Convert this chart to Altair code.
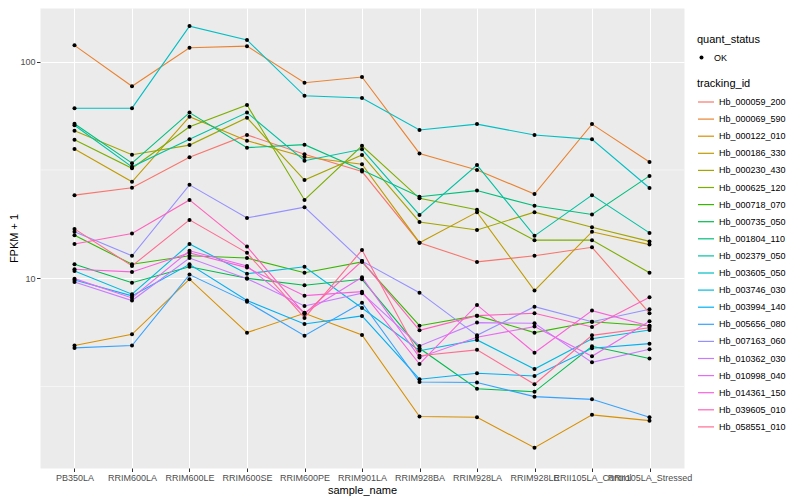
import altair as alt
import pandas as pd

samples = ["PB350LA", "RRIM600LA", "RRIM600LE", "RRIM600SE", "RRIM600PE", "RRIM901LA",
           "RRIM928BA", "RRIM928LA", "RRIM928LE", "RRII105LA_Control", "RRII105LA_Stressed"]

tracking_ids = ["Hb_000059_200", "Hb_000069_590", "Hb_000122_010", "Hb_000186_330", "Hb_000230_430",
                "Hb_000625_120", "Hb_000718_070", "Hb_000735_050", "Hb_001804_110", "Hb_002379_050",
                "Hb_003605_050", "Hb_003746_030", "Hb_003994_140", "Hb_005656_080", "Hb_007163_060",
                "Hb_010362_030", "Hb_010998_040", "Hb_014361_150", "Hb_039605_010", "Hb_058551_010"]

palette = ["#F8766D", "#EA8331", "#D89000", "#C09B00", "#A3A500", "#7CAE00", "#39B600", "#00BB4E",
           "#00BF7D", "#00C1A3", "#00BFC4", "#00BAE0", "#00B0F6", "#35A2FF", "#9590FF", "#C77CFF",
           "#E76BF3", "#FA62DB", "#FF62BC", "#FF6C91"]

hb_000059_200 = [24.2, 26.2, 36.2, 45.9, 37.4, 31.1, 14.6, 11.9, 12.7, 13.9, 6.9]
hb_000069_590 = [119, 77, 116, 118, 80, 85, 37.7, 31.6, 24.5, 51.5, 34.4]
hb_000122_010 = [4.89, 5.51, 9.9, 5.61, 6.89, 5.47, 2.30, 2.28, 1.65, 2.34, 2.20]
hb_000186_330 = [39.5, 27.9, 55.7, 43.2, 36.3, 33.6, 14.6, 20.2, 8.77, 16.4, 14.3]
hb_000230_430 = [48.0, 37.2, 41.2, 55.1, 28.4, 37.1, 18.2, 16.7, 20.2, 17.2, 14.8]
hb_000625_120 = [43.6, 32.2, 50.1, 63.1, 23.0, 40.9, 23.4, 20.7, 15.0, 15.0, 10.6]
hb_000718_070 = [15.8, 11.6, 12.7, 12.4, 10.6, 11.9, 6.04, 6.72, 5.61, 6.30, 6.04]
hb_000735_050 = [11.6, 9.54, 11.3, 10.0, 9.28, 9.89, 4.75, 3.09, 2.99, 4.85, 4.26]
hb_001804_110 = [51.7, 34.0, 58.2, 40.1, 41.4, 31.6, 23.8, 25.4, 21.6, 19.7, 29.7]
hb_002379_050 = [50.9, 32.7, 43.8, 58.2, 34.9, 39.4, 19.6, 33.3, 15.7, 24.2, 16.2]
hb_003605_050 = [61, 61, 146, 126, 69.6, 68, 48.4, 51.5, 45.9, 43.8, 26.1]
hb_003746_030 = [10.8, 8.44, 14.4, 10.5, 11.3, 7.29, 4.63, 5.19, 3.81, 5.26, 5.77]
hb_003994_140 = [9.82, 8.29, 11.6, 7.89, 6.15, 6.70, 3.42, 3.64, 3.54, 4.75, 4.99]
hb_005656_080 = [4.77, 4.89, 10.4, 7.78, 5.43, 7.71, 3.32, 3.30, 2.84, 2.76, 2.28]
hb_007163_060 = [16.4, 12.7, 27.0, 19.0, 21.3, 12.0, 8.58, 5.45, 7.39, 6.30, 7.19]
hb_010362_030 = [9.61, 7.89, 12.4, 9.96, 7.45, 8.53, 4.87, 6.24, 6.20, 4.09, 4.70]
hb_010998_040 = [9.96, 8.11, 13.4, 11.4, 6.93, 10.1, 4.31, 5.34, 5.98, 4.36, 6.33]
hb_014361_150 = [11.0, 10.7, 13.1, 11.2, 8.31, 8.67, 4.02, 7.53, 4.53, 7.09, 6.02]
hb_039605_010 = [14.4, 16.1, 23.0, 14.0, 6.84, 12.0, 5.75, 6.72, 6.89, 5.96, 8.17]
hb_058551_010 = [16.9, 11.4, 18.6, 13.1, 6.56, 13.5, 4.39, 4.67, 3.24, 5.45, 5.91]

minor_breaks = [3.1623, 31.623]
major_breaks = [10, 100]

series = [hb_000059_200, hb_000069_590, hb_000122_010, hb_000186_330, hb_000230_430,
          hb_000625_120, hb_000718_070, hb_000735_050, hb_001804_110, hb_002379_050,
          hb_003605_050, hb_003746_030, hb_003994_140, hb_005656_080, hb_007163_060,
          hb_010362_030, hb_010998_040, hb_014361_150, hb_039605_010, hb_058551_010]

rows = []
for tid, vals in zip(tracking_ids, series):
    for s, v in zip(samples, vals):
        rows.append({"tracking_id": tid, "sample_name": s, "value": v, "quant_status": "OK"})
df = pd.DataFrame(rows)

FONT = "Liberation Sans"

x_enc = alt.X("sample_name:N", sort=samples,
              scale=alt.Scale(type="point", padding=0.6),
              axis=alt.Axis(title="sample_name", labelAngle=0, labelOverlap=False,
                            labelFontSize=9, labelColor="#4D4D4D", tickSize=3.5,
                            tickColor="#333333", labelPadding=2, domain=False,
                            grid=True, gridColor="white", gridWidth=1,
                            titleFontSize=11, titleFontWeight="normal", titleColor="black",
                            titlePadding=2))
y_scale = alt.Scale(type="log", domain=[1.33, 177], nice=False, zero=False)
y_enc = alt.Y("value:Q", scale=y_scale,
              axis=alt.Axis(title="FPKM + 1", values=major_breaks, format="d",
                            labelFontSize=9, labelColor="#4D4D4D", tickSize=3.5,
                            tickColor="#333333", labelPadding=1.5, domain=False,
                            grid=True, gridColor="white", gridWidth=1,
                            titleFontSize=11, titleFontWeight="normal", titleColor="black",
                            titlePadding=0))

minor = alt.Chart(pd.DataFrame({"m": minor_breaks})).mark_rule(
    color="white", strokeWidth=0.5
).encode(y=alt.Y("m:Q", scale=y_scale))

lines = alt.Chart(df).mark_line(strokeWidth=1.1).encode(
    x=x_enc, y=y_enc,
    color=alt.Color("tracking_id:N",
                    scale=alt.Scale(domain=tracking_ids, range=palette),
                    legend=alt.Legend(title="tracking_id", orient="none", legendX=657, legendY=70,
                                      symbolType="stroke", symbolSize=256, symbolStrokeWidth=1.2,
                                      labelFontSize=9, labelColor="black", titleFontSize=11,
                                      titleFontWeight="normal", titleColor="black",
                                      rowPadding=3.1, titlePadding=4, labelOffset=4)),
    detail="tracking_id:N",
)

points = alt.Chart(df).mark_point(filled=True, size=16, color="black", opacity=1).encode(
    x=alt.X("sample_name:N", sort=samples),
    y=alt.Y("value:Q", scale=y_scale),
    shape=alt.Shape("quant_status:N", scale=alt.Scale(domain=["OK"], range=["circle"]),
                    legend=alt.Legend(title="quant_status", orient="none", legendX=657, legendY=26,
                                      symbolFillColor="black", symbolStrokeColor="black",
                                      symbolSize=16, labelFontSize=9, labelColor="black",
                                      titleFontSize=11, titleFontWeight="normal",
                                      titleColor="black", titlePadding=8, labelOffset=8)),
)

chart = alt.layer(minor, lines, points).resolve_scale(color="independent").properties(
    width=644, height=460,
    autosize=alt.AutoSizeParams(type="none"),
    padding={"left": 32, "top": 0, "right": 108, "bottom": 30},
).configure(font=FONT).configure_view(fill="#EBEBEB", stroke="transparent")

chart.save("out.html", embed_options={"renderer": "svg", "actions": False})
